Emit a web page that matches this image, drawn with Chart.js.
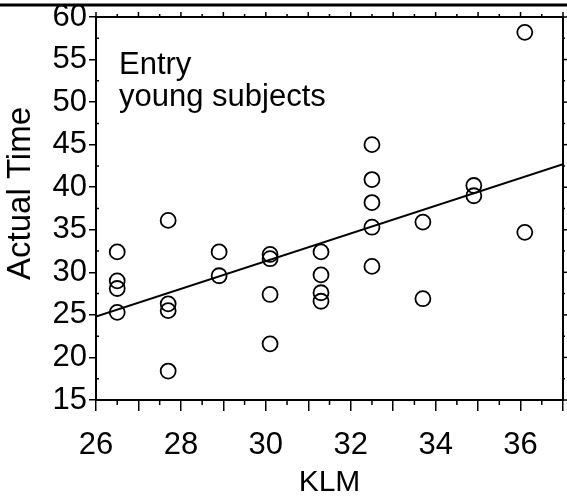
<!DOCTYPE html>
<html><head><meta charset="utf-8">
<script src="https://cdn.jsdelivr.net/npm/chart.js@4"></script>
<style>html,body{margin:0;padding:0;background:#fff;overflow:hidden}#wrap{width:567px;height:498px;position:relative}</style>
</head><body><div id="wrap"><canvas id="c" width="567" height="498"></canvas></div>
<script>
// ---- data ----
const klm = [26.5,26.5,26.5,26.5, 27.7,27.7,27.7,27.7, 28.9,28.9, 30.1,30.1,30.1,30.1, 31.3,31.3,31.3,31.3, 32.5,32.5,32.5,32.5,32.5, 33.7,33.7, 34.9,34.9, 36.1,36.1];
const actualTime = [32.4,29.0,28.1,25.3, 36.1,26.3,25.5,18.4, 32.4,29.6, 32.1,31.6,27.4,21.6, 32.4,29.7,27.6,26.6, 45.0,40.9,38.2,35.3,30.7, 35.9,26.9, 40.2,39.0, 58.2,34.7];
const fitKlm = [26, 37];
const fitTime = [24.8, 42.7];
const xTickLabels = [26, 28, 30, 32, 34, 36];
const yTickLabels = [15, 20, 25, 30, 35, 40, 45, 50, 55, 60];
const noteLines = ['Entry', 'young subjects'];
const xTitle = 'KLM';
const yTitle = 'Actual Time';

const FONT = "'Liberation Sans', Arial, Helvetica, sans-serif";

const framePlugin = {
  id: 'frame',
  afterDraw(chart) {
    const ctx = chart.ctx;
    const a = chart.chartArea;
    const xs = chart.scales.x, ys = chart.scales.y;
    ctx.save();
    ctx.strokeStyle = '#000';
    ctx.fillStyle = '#000';
    // frame
    ctx.lineWidth = 2;
    ctx.strokeRect(a.left, a.top, a.right - a.left, a.bottom - a.top);
    // scan bar at very top
    ctx.lineWidth = 3;
    ctx.beginPath(); ctx.moveTo(0, 5); ctx.lineTo(chart.width, 5); ctx.stroke();
    ctx.lineWidth = 1.5;
    // x minor ticks (bottom) and top ticks
    for (let v = xs.min; v <= xs.max + 1e-9; v += 0.5) {
      const px = xs.getPixelForValue(v);
      const isInt = Math.abs(v - Math.round(v)) < 1e-6;
      ctx.beginPath();
      if (!isInt) { ctx.moveTo(px, a.bottom); ctx.lineTo(px, a.bottom + 5); }
      ctx.moveTo(px, a.top); ctx.lineTo(px, a.top - (isInt ? 5 : 3));
      ctx.stroke();
    }
    // y minor ticks (left, inward) and right ticks
    for (let v = ys.min; v <= ys.max + 1e-9; v += 2.5) {
      const py = ys.getPixelForValue(v);
      const isMaj = Math.abs(v / 5 - Math.round(v / 5)) < 1e-6;
      ctx.beginPath();
      if (!isMaj) { ctx.moveTo(a.left, py); ctx.lineTo(a.left + 3, py); }
      ctx.moveTo(a.right, py); ctx.lineTo(a.right + (isMaj ? 4 : 2), py);
      ctx.stroke();
    }
    // annotation
    ctx.font = '31px ' + FONT;
    ctx.textAlign = 'left';
    ctx.textBaseline = 'alphabetic';
    ctx.fillText(noteLines[0], a.left + 23, a.top + 57);
    ctx.fillText(noteLines[1], a.left + 23, a.top + 89);
    // y axis title
    ctx.save();
    ctx.font = '33px ' + FONT;
    ctx.textAlign = 'center';
    ctx.textBaseline = 'middle';
    ctx.translate(21, (a.top + a.bottom) / 2 - 15);
    ctx.rotate(-Math.PI / 2);
    ctx.fillText(yTitle, 0, 0);
    ctx.restore();
    ctx.restore();
  }
};

new Chart(document.getElementById('c'), {
  type: 'scatter',
  data: {
    datasets: [
      {
        label: 'Actual Time',
        data: klm.map((k, i) => ({ x: k, y: actualTime[i] })),
        pointStyle: 'circle',
        pointRadius: 7.5,
        pointBorderWidth: 1.8,
        pointBorderColor: '#000',
        pointBackgroundColor: 'rgba(0,0,0,0)',
        showLine: false
      },
      {
        label: 'fit',
        data: fitKlm.map((k, i) => ({ x: k, y: fitTime[i] })),
        showLine: true,
        borderColor: '#000',
        borderWidth: 2,
        pointRadius: 0
      }
    ]
  },
  options: {
    responsive: false,
    animation: false,
    devicePixelRatio: 1,
    layout: { autoPadding: false, padding: { top: 17, right: 4, left: 0, bottom: 0 } },
    plugins: { legend: { display: false }, tooltip: { enabled: false } },
    scales: {
      x: {
        type: 'linear',
        min: 26, max: 37,
        afterFit(s) { s.height = 98; s.paddingLeft = 0; s.paddingRight = 0; },
        border: { display: true, color: '#000', width: 2 },
        grid: { display: true, drawOnChartArea: false, drawTicks: true, tickLength: 11, color: '#000', lineWidth: 1.5 },
        ticks: {
          stepSize: 1, autoSkip: false, maxRotation: 0, padding: 19,
          color: '#000', font: { family: FONT, size: 31, lineHeight: 1 },
          callback: (v) => xTickLabels.includes(v) ? String(v) : ''
        },
        title: { display: true, text: xTitle, color: '#000', font: { family: FONT, size: 30, lineHeight: 1 }, padding: { top: 0, bottom: 0 } }
      },
      y: {
        type: 'linear',
        min: 15, max: 60,
        afterFit(s) { s.width = 96; s.paddingTop = 0; s.paddingBottom = 0; },
        border: { display: true, color: '#000', width: 2 },
        grid: { display: true, drawOnChartArea: false, drawTicks: true, tickLength: 7, color: '#000', lineWidth: 1.5 },
        ticks: {
          stepSize: 5, autoSkip: false, padding: 2,
          color: '#000', font: { family: FONT, size: 31, lineHeight: 1 },
          callback: (v) => yTickLabels.includes(v) ? String(v) : ''
        },
        title: { display: false }
      }
    }
  },
  plugins: [framePlugin]
});
</script>
</body></html>
